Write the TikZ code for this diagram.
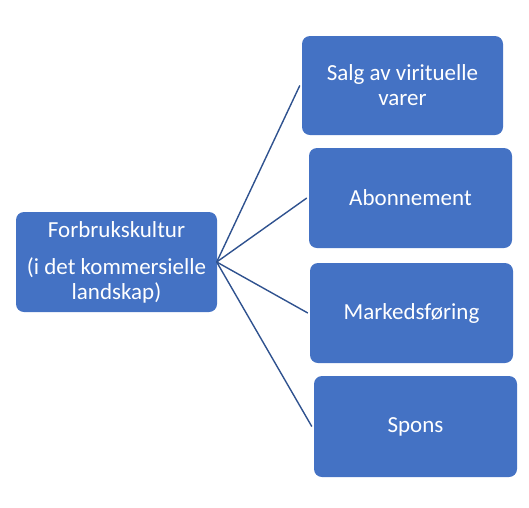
\documentclass[tikz,border=0pt]{standalone}
\usepackage{fontspec}
\setmainfont{Carlito}
\definecolor{boxblue}{HTML}{4472C4}
\definecolor{lineblue}{HTML}{2F528F}
\begin{document}
\begin{tikzpicture}[x=1pt,y=-1pt,
  box/.style={fill=boxblue, draw=none, rounded corners=8pt, text=white,
    align=center, inner sep=0pt, font=\fontsize{23}{25}\selectfont},
  link/.style={draw=lineblue, line width=1.4pt}]
\useasboundingbox (0,0) rectangle (529,507);
\node[box, minimum width=201pt, minimum height=100pt] (root) at (116.5,262)
  {Forbrukskultur\\[12pt](i det kommersielle\\landskap)};
\node[box, minimum width=201pt, minimum height=99pt] (b1) at (402.5,85.5)
  {Salg av virituelle\\varer};
\node[box, minimum width=203pt, minimum height=100pt] (b2) at (410.5,198)
  {Abonnement};
\node[box, minimum width=203pt, minimum height=100pt] (b3) at (411.5,313)
  {Markedsføring};
\node[box, minimum width=203pt, minimum height=101pt] (b4) at (415.5,426.5)
  {Spons};
\foreach \b in {b1,b2,b3,b4}
  \draw[link] ([xshift=-0.5pt]root.east) -- ([xshift=-2pt]\b.west);
\end{tikzpicture}
\end{document}
